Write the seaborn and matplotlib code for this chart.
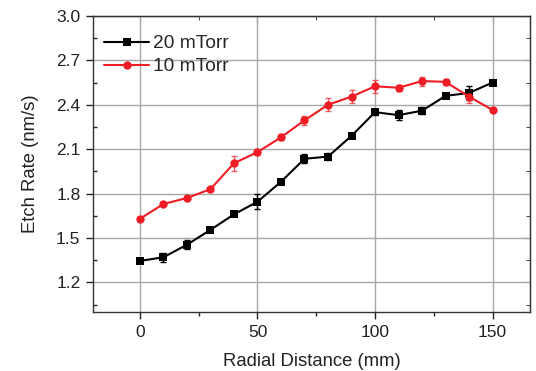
import numpy as np
import pandas as pd
import matplotlib
matplotlib.use("Agg")
import matplotlib.pyplot as plt
import seaborn as sns
from matplotlib.ticker import MultipleLocator

distance = [0, 10, 20, 30, 40, 50, 60, 70, 80, 90, 100, 110, 120, 130, 140, 150]
rate_20 = [1.345, 1.37, 1.455, 1.555, 1.66, 1.745, 1.88, 2.035, 2.05, 2.19, 2.35, 2.33, 2.36, 2.46, 2.48, 2.55]
err_20 = [0.015, 0.03, 0.03, 0.01, 0.01, 0.05, 0.015, 0.03, 0.025, 0.01, 0.02, 0.035, 0.025, 0.01, 0.05, 0.01]
rate_10 = [1.63, 1.73, 1.77, 1.83, 2.005, 2.08, 2.18, 2.295, 2.40, 2.455, 2.525, 2.515, 2.56, 2.555, 2.455, 2.365]
err_10 = [0.01, 0.01, 0.01, 0.01, 0.05, 0.02, 0.02, 0.03, 0.045, 0.045, 0.045, 0.02, 0.03, 0.02, 0.04, 0.01]
labels = ["20 mTorr", "10 mTorr"]
colors = ["#000000", "#ee1c24"]
yticks = [1.2, 1.5, 1.8, 2.1, 2.4, 2.7, 3.0]
ytick_labels = ["1.2", "1.5", "1.8", "2.1", "2.4", "2.7", "3.0"]

df = pd.DataFrame({
    "Radial Distance (mm)": distance * 2,
    "Etch Rate (nm/s)": rate_20 + rate_10,
    "Pressure": [labels[0]] * len(distance) + [labels[1]] * len(distance),
})

sns.set_style("white")
plt.rcParams["font.family"] = ["Liberation Sans", "DejaVu Sans"]

fig = plt.figure(figsize=(5.36, 3.71), dpi=100)
ax = fig.add_axes([0.1735, 0.159, 0.8155, 0.798])

ax.grid(True, color="#a8a8a8", linewidth=1.0)
ax.set_axisbelow(True)

for lab, rates, errs, col in [(labels[0], rate_20, err_20, colors[0]), (labels[1], rate_10, err_10, colors[1])]:
    ax.errorbar(distance, rates, yerr=errs, fmt="none", ecolor=col, alpha=0.7 if col != "#000000" else 1.0,
                elinewidth=1.0, capsize=2.5, capthick=1.0, zorder=3)

sns.lineplot(data=df, x="Radial Distance (mm)", y="Etch Rate (nm/s)", hue="Pressure",
             style="Pressure", markers={labels[0]: "s", labels[1]: "o"}, dashes=False,
             palette=dict(zip(labels, colors)), markersize=6, markeredgewidth=0,
             linewidth=1.5, ax=ax, zorder=4)

ax.set_xlim(-20, 166)
ax.set_ylim(1.0, 3.0)
ax.xaxis.set_major_locator(MultipleLocator(50))
ax.xaxis.set_minor_locator(MultipleLocator(25))
ax.set_yticks(yticks)
ax.set_yticklabels(ytick_labels)
ax.yaxis.set_minor_locator(MultipleLocator(0.15))

ax.tick_params(axis="both", which="major", direction="out", length=5, width=1, labelsize=12.5,
               colors="#222222", bottom=True, left=True, pad=4)
ax.tick_params(axis="both", which="minor", direction="out", length=3, width=1, bottom=True, left=True)
ax.tick_params(axis="y", which="minor", direction="in")
for s in ax.spines.values():
    s.set_color("#333333")
    s.set_linewidth(1.0)

sec = ax.secondary_xaxis("top")
sec.xaxis.set_major_locator(MultipleLocator(50))
sec.xaxis.set_minor_locator(MultipleLocator(25))
sec.tick_params(which="major", direction="in", length=5, labeltop=False)
sec.tick_params(which="minor", direction="in", length=3)
secy = ax.secondary_yaxis("right")
secy.set_yticks(yticks)
secy.yaxis.set_minor_locator(MultipleLocator(0.15))
secy.tick_params(which="major", direction="in", length=5, labelright=False)
secy.tick_params(which="minor", direction="in", length=3)

ax.set_xlabel("Radial Distance (mm)", fontsize=13.3, color="#222222", labelpad=10)
ax.set_ylabel("Etch Rate (nm/s)", fontsize=13.3, color="#222222", labelpad=12)

leg = ax.legend(loc="upper left", frameon=False, fontsize=13.8, handlelength=2.3,
                handletextpad=0.25, labelspacing=0.3, borderaxespad=0.2,
                bbox_to_anchor=(0.0, 0.975))

fig.savefig("out.png", dpi=100)
